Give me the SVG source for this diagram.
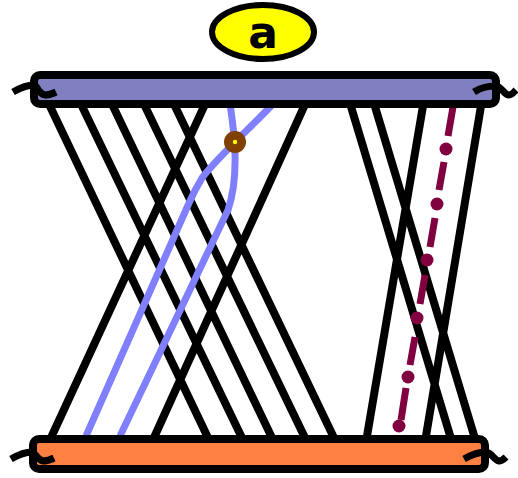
<svg xmlns="http://www.w3.org/2000/svg" width="518" height="478" viewBox="0 0 518 478">
<style>
.ln{stroke:#000;stroke-width:8;fill:none;stroke-linecap:butt}
.bl{stroke:#8080FF;stroke-width:7;fill:none}
.bar{stroke:#000;stroke-width:8}
.tl{stroke:#000;stroke-width:7;fill:none}
.pd{stroke:#800040;stroke-width:7;fill:none}
</style>
<rect width="518" height="478" fill="#fff"/>
<g id="connectors">
<path class="ln" d="M47,100 L210,442 M79,100 L244,442 M110,100 L274,442 M142,100 L307,442 M172,100 L336,442 M207,100 L49,442 M307,100 L152,442"/>
<path class="ln" d="M349,100 L452,442 M373,100 L476,442 M424,100 L366,442 M482,100 L425,442"/>
<path class="pd" d="M453,107 L448,136 M444,162 L439,190 M435,218 L430,247 M425,275 L420,304 M415,337 L410,365 M406,388 L401,420"/>
<g fill="#800040">
<circle cx="446" cy="149" r="6.5"/><circle cx="437" cy="204" r="6.5"/><circle cx="427" cy="260" r="6.5"/><circle cx="417" cy="318" r="6.5"/><circle cx="408" cy="377" r="6.5"/><circle cx="399" cy="426" r="6.5"/>
</g>
<path class="bl" d="M230,104 C234,130 240,175 228,210 L120,436"/>
<path class="bl" d="M272,105 C250,128 215,160 202,178 C196,188 193,194 189,203 L86,436"/>
</g>
<g id="node-junction">
<circle cx="235" cy="142" r="11" fill="#804000"/>
<circle cx="235" cy="142" r="2.2" fill="#FFFF00"/>
</g>
<g id="top-bar">
<rect class="bar" x="34" y="75" width="462" height="29" rx="6" fill="#8080C0"/>
<path class="tl" d="M13,92 C20,88 27,85 34,85 C38,86 38,94 45,95 C49,95 52,94 56,92"/>
<path class="tl" d="M474,92 C480,88 488,86 496,86 C502,87 504,95 509,95 C512,95 514,92 516,90"/>
</g>
<g id="bottom-bar">
<rect class="bar" x="33" y="439" width="452" height="30" rx="6" fill="#FF8040"/>
<path class="tl" d="M11,459 C18,455 25,452 32,452 C36,453 37,460 43,461 C47,461 50,460 54,458"/>
<path class="tl" d="M464,459 C471,455 478,452 486,452 C492,453 494,460 499,461 C502,461 504,459 506,457"/>
</g>
<g id="label-a">
<ellipse cx="263" cy="32" rx="51" ry="27" fill="#FFFF00" stroke="#000" stroke-width="6"/>
<text x="263" y="48" text-anchor="middle" font-family="DejaVu Sans, sans-serif" font-weight="bold" font-size="44">a</text>
</g>
</svg>
